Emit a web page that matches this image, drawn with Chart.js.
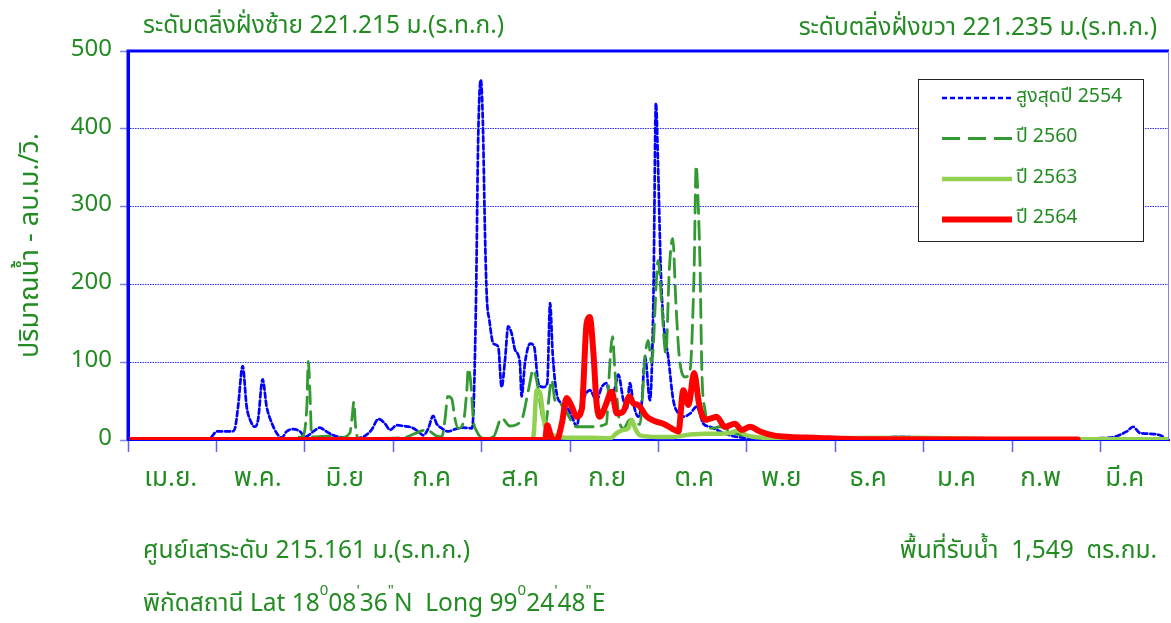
<!DOCTYPE html>
<html><head><meta charset="utf-8">
<script src="https://cdn.jsdelivr.net/npm/chart.js@4.4.0/dist/chart.umd.min.js"></script>
<style>
html,body{margin:0;padding:0;background:#fff;}
#wrap{position:relative;width:1171px;height:623px;overflow:hidden;background:#fff;}
canvas{position:absolute;left:0;top:0;}
.t{position:absolute;color:#228B22;font-family:'Noto Sans Thai','Noto Sans',sans-serif;font-size:24.5px;white-space:pre;line-height:1.2;}
.t sup{font-size:15px;vertical-align:top;position:relative;top:-7px;}
</style></head>
<body><div id="wrap"><canvas id="c" width="1171" height="623"></canvas>
<div class="t" style="left:143px;top:11px">ระดับตลิ่งฝั่งซ้าย 221.215 ม.(ร.ท.ก.)</div>
<div class="t" style="right:14px;top:13px">ระดับตลิ่งฝั่งขวา 221.235 ม.(ร.ท.ก.)</div>
<div class="t" style="left:143px;top:536px">ศูนย์เสาระดับ 215.161 ม.(ร.ท.ก.)</div>
<div class="t" style="right:14px;top:536px">พื้นที่รับน้ำ  1,549  ตร.กม.</div>
<div class="t" style="left:143px;top:589px">พิกัดสถานี Lat 18<sup>0</sup>08<sup>'</sup>36<sup>"</sup>N  Long 99<sup>0</sup>24<sup>'</sup>48<sup>"</sup>E</div>
</div>
<script>
// ---- data (day index from 1 April, value in m3/s) ----
const monthLabels = ['เม.ย.','พ.ค.','มิ.ย','ก.ค','ส.ค','ก.ย','ต.ค','พ.ย','ธ.ค','ม.ค','ก.พ','มี.ค'];
const monthLengths = [30,31,30,31,31,30,31,30,31,31,28,31];
const yTicks = [0,100,200,300,400,500];

const days2554 = [29.3,31.2,36.5,37.5,38.6,40.2,41.6,42.8,44.5,45.6,47.2,48.6,50.4,52.1,53.9,55.6,58,60.3,62.1,65,67.3,69.1,72,75.5,79,82.5,85.4,87.8,90.1,91.9,94.2,96.5,99.5,101.8,103.5,105.3,107,108.2,110,112.3,114.7,117.6,120.5,121.1,122,122.8,123.7,124.4,125.2,125.8,126.7,128.1,129.8,131,132.2,133.3,134.5,135.7,137.4,138,139.2,141,142.4,143.9,145.6,147,148,148.9,150.3,152.1,153.8,156.1,157.3,158.5,161.9,164.3,166.1,167.8,169.2,170.8,171.9,173.7,174.8,176,177.2,178.9,180.1,181.3,183,184.2,185.1,185.9,186.8,187.7,189.4,191.2,193,194.7,197.1,199.4,201.7,204.1,206.4,208.7,213.4,221.6,235.6,253,265.4,268.9,273.1,277.7,305.7,333.8,344.3,350.2,352.4,354.8,358.3,361.9,364.2];
const flow2554 = [4,11,11,15,43,95,43,26,17,26,78,43,22,9,3,11,14,11,4,11,16,12,6,3,2,4,13,27,21,13,19,18,16,11,6,15,31,21,15,11,14,16,15,35,176,390,463,411,261,184,154,124,120,68,103,146,137,116,99,56,99,124,120,73,68,73,176,111,60,47,43,26,17,39,64,51,68,73,51,68,84,51,39,73,47,30,47,107,51,176,433,347,219,154,107,51,34,30,34,43,21,17,13,9,4,2,2,1,2,4,4,1,1,2,3,11,17,9,8,6,1];

const days2560 = [50.8,54.3,60.9,62.7,63.2,63.8,64.4,66.2,69.7,74.3,77.8,78.6,79.2,79.8,80.7,87.2,96.5,104.7,108.2,110,111.2,112.1,113.5,114.7,115.8,117.6,118.8,119.3,120.2,121.1,122.3,124.6,128.1,131,133.9,138,140.4,142.1,143.9,144.5,146.2,148.6,149.7,151.5,153.2,157.3,161.9,167.8,168.4,169.9,170.7,172.5,173.7,176,179.5,181.3,182.4,183.6,185.9,187.1,188.6,189.8,191,192.1,193.3,195.3,197,198.5,199.2,200,200.6,201.2,202.3,204.7,207.6,212.3,221.6,235.6,365];
const flow2560 = [1,2,4,43,101,60,4,4,5,3,9,30,49,17,2,2,3,13,5,4,28,56,53,26,15,23,64,92,73,26,11,2,4,28,18,26,64,90,64,47,17,77,51,47,39,17,17,21,64,133,90,21,15,26,20,107,128,99,231,176,111,219,259,176,107,81,88,219,353,296,219,90,39,15,17,9,3,1,1];

const days2563 = [0,141.5,142.2,143.3,144.5,145.6,146.8,149.1,153.8,161.9,169,171.4,173.7,175.4,176.6,177.8,179.5,185.4,191.2,197.1,202.9,206.4,211.1,213.8,216.9,222.6,235.6,276,305.7,365];
const flow2563 = [0,1,6,64,60,30,13,6,3,3,2,9,13,15,26,15,6,4,4,7,8,8,9,12,6,3,2,3,1,1];

const days2564 = [0,146.2,147,148.6,150.3,152.1,153.8,155.6,157.3,159.1,160.8,161.9,163.2,164.3,165.5,167.3,169.6,171.4,173.7,175.8,177.2,178.9,181.9,184.8,187.7,190.6,193,194.7,196.5,198.5,200.2,202.3,204.7,206.4,209.3,212.8,215.2,218.1,221.6,226.3,232.1,240.2,257.7,333];
const flow2564 = [0,0,19,2,0,21,54,43,30,39,150,158,111,47,30,43,62,34,37,56,47,45,30,24,21,15,11,64,45,86,47,26,28,30,17,21,13,17,11,6,4,3,1,0.5];

const seriesNames = ['สูงสุดปี 2554','ปี 2560','ปี 2563','ปี 2564'];
const yTitle = 'ปริมาณน้ำ - ลบ.ม./วิ.';

// ---- build ----
const pts = (d, v) => d.map((x, i) => ({x, y: v[i]}));
const FONT = "'Noto Sans Thai','Noto Sans',sans-serif";
const GREEN_TXT = '#228B22';
const TICK_STEP = 31;
const tickMarks = [];
for (let v = 0; v <= 365; v += TICK_STEP) tickMarks.push(v);
const labelPos = [];
let acc = 0;
monthLengths.forEach(n => { labelPos.push(acc + n / 2); acc += n; });

const datasets = [
  {label: seriesNames[0], data: pts(days2554, flow2554), borderColor: '#0000FF', borderWidth: 2.7, borderDash: [5,3], order: 3},
  {label: seriesNames[1], data: pts(days2560, flow2560), borderColor: '#339933', borderWidth: 2.8, borderDash: [18,8], order: 2},
  {label: seriesNames[2], data: pts(days2563, flow2563), borderColor: '#92D050', borderWidth: 4.5, order: 1},
  {label: seriesNames[3], data: pts(days2564, flow2564), borderColor: '#FF0000', borderWidth: 6, order: 0}
].map(d => Object.assign({pointRadius: 0, fill: false, cubicInterpolationMode: 'monotone', borderCapStyle: 'round', borderJoinStyle: 'round'}, d));

const framePlugin = {
  id: 'frame',
  afterDatasetsDraw(chart) {
    const {ctx, chartArea: a} = chart;
    ctx.save();
    ctx.strokeStyle = '#0000FF';
    ctx.lineWidth = 3;
    ctx.beginPath();
    ctx.moveTo(a.left, a.bottom); ctx.lineTo(a.left, a.top); ctx.lineTo(a.right, a.top);
    ctx.stroke();
    ctx.lineWidth = 1; ctx.strokeStyle = '#8080ff';
    ctx.beginPath(); ctx.moveTo(a.right - 0.5, a.top); ctx.lineTo(a.right - 0.5, a.bottom); ctx.stroke();
    ctx.restore();
  }
};

const legendPlugin = {
  id: 'boxLegend',
  afterDraw(chart) {
    const {ctx, chartArea: a} = chart;
    const bx = a.left + 790, by = a.top + 28, bw = 225, bh = 162;
    ctx.save();
    ctx.fillStyle = '#fff';
    ctx.fillRect(bx, by, bw, bh);
    ctx.strokeStyle = '#222'; ctx.lineWidth = 1;
    ctx.strokeRect(bx + 0.5, by + 0.5, bw, bh);
    chart.data.datasets.forEach((ds, i) => {
      const y = by + 19 + i * 40.5;
      ctx.strokeStyle = ds.borderColor;
      ctx.lineWidth = ds.borderWidth;
      ctx.setLineDash(ds.borderDash || []);
      ctx.beginPath(); ctx.moveTo(bx + 24, y); ctx.lineTo(bx + 94, y); ctx.stroke();
      ctx.setLineDash([]);
      ctx.fillStyle = GREEN_TXT;
      ctx.font = '19.5px ' + FONT;
      ctx.textBaseline = 'middle'; ctx.textAlign = 'left';
      ctx.fillText(ds.label, bx + 98, y);
    });
    ctx.restore();
  }
};

new Chart(document.getElementById('c'), {
  type: 'line',
  data: {datasets},
  options: {
    responsive: false,
    animation: false,
    events: [],
    layout: {padding: {top: 51, right: 2, left: 0, bottom: 123}},
    plugins: {legend: {display: false}, tooltip: {enabled: false}},
    scales: {
      x: {
        type: 'linear', min: 0, max: 365,
        afterBuildTicks: s => {
          s.ticks = tickMarks.map(v => ({value: v})).concat(labelPos.map(v => ({value: v}))).sort((p, q) => p.value - q.value);
        },
        afterFit: s => { s.height = 60; },
        ticks: {
          autoSkip: false, maxRotation: 0, minRotation: 0, padding: 13,
          color: GREEN_TXT, font: {family: FONT, size: 26},
          callback: function (v) { const i = labelPos.indexOf(v); return i >= 0 ? monthLabels[i] : ''; }
        },
        grid: {
          display: true, drawOnChartArea: false, drawTicks: true, tickLength: 12,
          tickColor: c => (c.tick && labelPos.indexOf(c.tick.value) >= 0) ? 'rgba(0,0,0,0)' : '#6060ff',
          tickWidth: 1.5
        },
        border: {display: true, color: '#0000FF', width: 2}
      },
      y: {
        type: 'linear', min: 0, max: 500,
        afterBuildTicks: s => { s.ticks = yTicks.map(v => ({value: v})); },
        afterFit: s => { s.width = 128; },
        ticks: {padding: 8, color: GREEN_TXT, font: {family: FONT, size: 24}},
        title: {display: true, text: yTitle, color: GREEN_TXT, font: {family: FONT, size: 27}, padding: {top: 16, bottom: 0}},
        grid: {
          drawTicks: true, tickLength: 8,
          color: c => (c.tick && (c.tick.value === 0 || c.tick.value === 500)) ? 'rgba(0,0,0,0)' : '#3030ff',
          lineWidth: 1,
          tickColor: '#8080ff', tickWidth: 1.5
        },
        border: {display: true, color: '#0000FF', width: 3, dash: [1.5, 1]}
      }
    }
  },
  plugins: [framePlugin, legendPlugin]
});
</script>
</body></html>
